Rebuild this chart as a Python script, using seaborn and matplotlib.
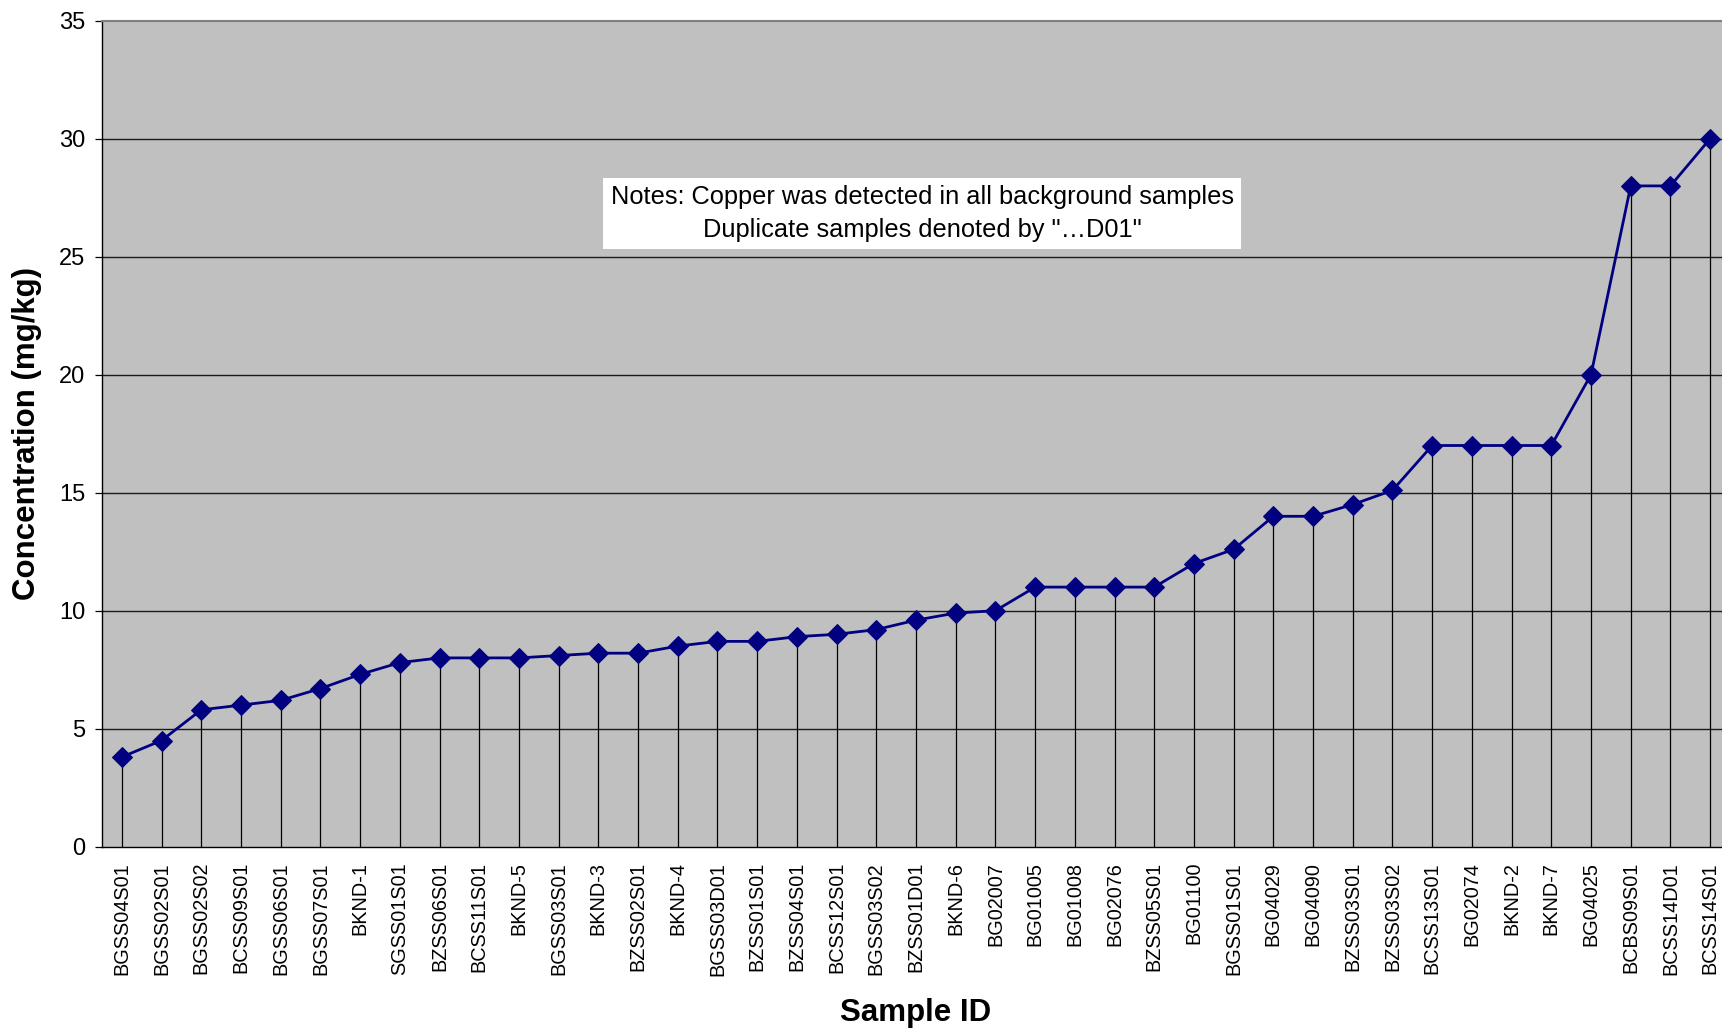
import matplotlib
matplotlib.use("Agg")
import matplotlib.pyplot as plt
import seaborn as sns
import pandas as pd
import numpy as np

# Data
sample_ids = ["BGSS04S01", "BGSS02S01", "BGSS02S02", "BCSS09S01", "BGSS06S01", "BGSS07S01",
              "BKND-1", "SGSS01S01", "BZSS06S01", "BCSS11S01", "BKND-5", "BGSS03S01",
              "BKND-3", "BZSS02S01", "BKND-4", "BGSS03D01", "BZSS01S01", "BZSS04S01",
              "BCSS12S01", "BGSS03S02", "BZSS01D01", "BKND-6", "BG02007", "BG01005",
              "BG01008", "BG02076", "BZSS05S01", "BG01100", "BGSS01S01", "BG04029",
              "BG04090", "BZSS03S01", "BZSS03S02", "BCSS13S01", "BG02074", "BKND-2",
              "BKND-7", "BG04025", "BCBS09S01", "BCSS14D01", "BCSS14S01"]
copper = [3.8, 4.5, 5.8, 6.0, 6.2, 6.7, 7.3, 7.8, 8.0, 8.0, 8.0, 8.1, 8.2, 8.2, 8.5,
          8.7, 8.7, 8.9, 9.0, 9.2, 9.6, 9.9, 10.0, 11.0, 11.0, 11.0, 11.0, 12.0, 12.6,
          14.0, 14.0, 14.5, 15.1, 17.0, 17.0, 17.0, 17.0, 20.0, 28.0, 28.0, 30.0]
y_ticks = [0, 5, 10, 15, 20, 25, 30, 35]

df = pd.DataFrame({"Sample ID": sample_ids, "Concentration": copper})

sns.set_style("white")
plt.rcParams["font.family"] = ["Liberation Sans", "DejaVu Sans"]
plt.rcParams.update({"text.color": "black", "axes.labelcolor": "black",
                     "xtick.color": "black", "ytick.color": "black"})

W, H = 1722, 1029
fig = plt.figure(figsize=(W / 100, H / 100), dpi=100)
# plot area runs a little past the right edge, as in the original
ax = fig.add_axes([102 / W, (H - 846.7) / H, (1730 - 102) / W, (846.7 - 20.7) / H])
ax.set_facecolor("#C0C0C0")

pos = np.arange(len(sample_ids))

# drop lines from each point to the axis
ax.vlines(pos, 0, df["Concentration"], color="black", lw=0.9, zorder=2)

sns.lineplot(data=df, x="Sample ID", y="Concentration", sort=False, ax=ax,
             color="#000080", lw=2.0, marker="D", markersize=10,
             markeredgecolor="#000080", zorder=3)

ax.set_xlim(-0.5, len(sample_ids) - 0.5)
ax.set_ylim(0, 35)
ax.set_yticks(y_ticks)
for t in y_ticks[1:-1]:
    ax.axhline(t, color="#1a1a1a", lw=1.0, zorder=1)

# category ticks sit between the samples
ax.set_xticks(pos)
ax.set_xticklabels(sample_ids, rotation=90, fontsize=14.3)
ax.set_xticks(np.arange(-0.5, len(sample_ids)), minor=True)
ax.tick_params(axis="x", which="major", length=0, pad=11)
ax.tick_params(axis="x", which="minor", length=5, width=0.9, color="black", direction="out")
ax.tick_params(axis="y", length=5, width=0.9, color="black", direction="out",
               labelsize=17, pad=7, left=True)

for side in ["left", "bottom"]:
    ax.spines[side].set_color("black")
    ax.spines[side].set_linewidth(1.0)
ax.spines["top"].set_color("#808080")
ax.spines["top"].set_linewidth(1.5)
ax.spines["right"].set_visible(False)

ax.set_xlabel("Sample ID", fontsize=22.5, fontweight="bold")
ax.set_ylabel("Concentration (mg/kg)", fontsize=22.5, fontweight="bold")
ax.xaxis.set_label_coords(0.5, -0.183)
ax.yaxis.set_label_coords(-0.037, 0.5)

ax.text(0.5037, 0.7665,
        "Notes: Copper was detected in all background samples\nDuplicate samples denoted by \"\u2026D01\"",
        transform=ax.transAxes, ha="center", va="center", multialignment="center",
        fontsize=18.3, linespacing=1.45, zorder=4,
        bbox=dict(boxstyle="square,pad=0.3", facecolor="white", edgecolor="none"))

fig.savefig("out.png", dpi=100)
